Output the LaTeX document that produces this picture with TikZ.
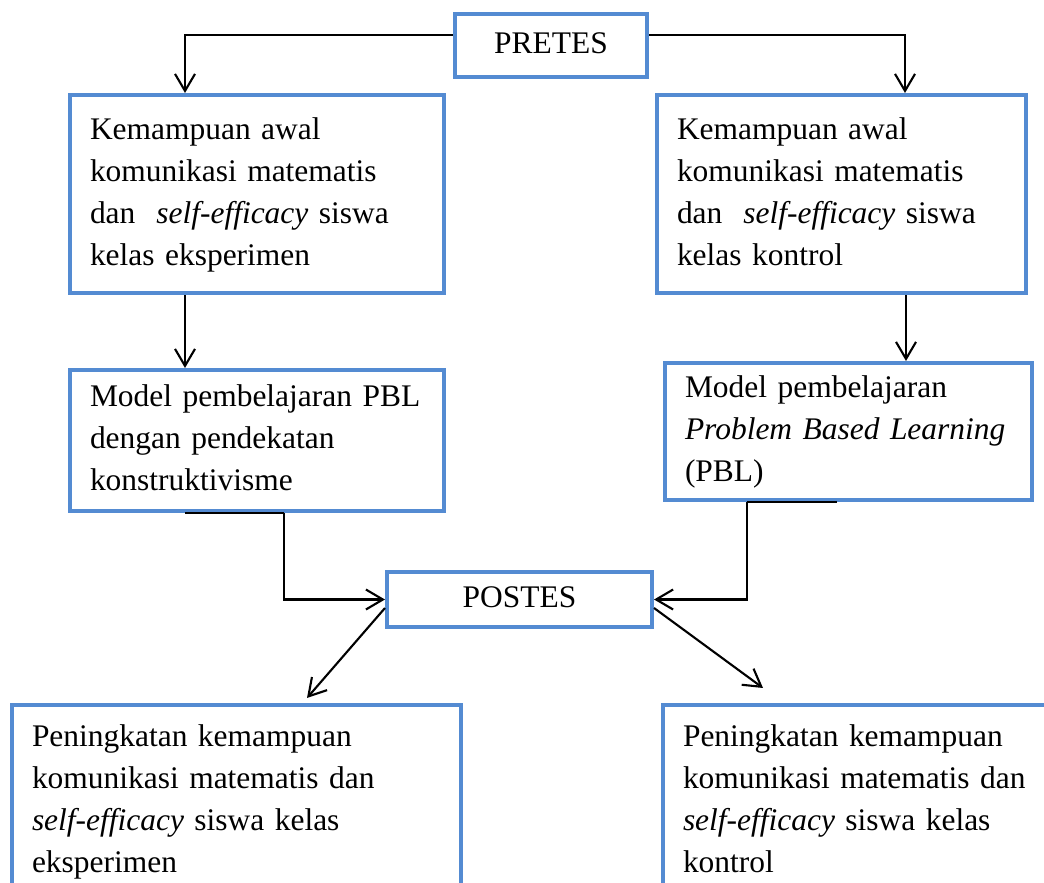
\documentclass[tikz,border=0pt]{standalone}
\usepackage{fontspec}
\setmainfont{Liberation Serif}
\usepackage{xcolor}
\usetikzlibrary{arrows.meta, positioning, calc}
\definecolor{boxblue}{RGB}{84, 139, 210}
\definecolor{dark}{RGB}{0, 0, 0}
\tikzset{
    box/.style={rectangle, draw=boxblue, line width=2.3pt, align=left, inner xsep=0.4cm, inner ysep=0pt,
        font=\fontsize{17.9pt}{23.9pt}\selectfont, execute at begin node=\strut, execute at end node=\strut},
    tagbox/.style={box, align=center},
    arr/.style={-{Straight Barb[length=3.4mm, width=4mm]}, line width=1.2pt, dark},
    link/.style={line width=1.2pt, dark}
}
\begin{document}
\begin{tikzpicture}
    \useasboundingbox (0,0) rectangle (20.88,-17.64);
    \node[tagbox, minimum width=3.84cm, minimum height=1.26cm] (pretes) at (11.02,-0.91) {PRETES};
    \node[box, text width=6.68cm, minimum height=3.96cm] (awalE) at (5.14,-3.88) {Kemampuan awal\\komunikasi matematis\\dan~ \textit{self-efficacy} siswa\\kelas eksperimen};
    \node[box, text width=6.58cm, minimum height=3.96cm] (awalK) at (16.83,-3.88) {Kemampuan awal\\komunikasi matematis\\dan~ \textit{self-efficacy} siswa\\kelas kontrol};
    \node[box, text width=6.68cm, minimum height=2.82cm] (modelE) at (5.14,-8.81) {Model pembelajaran PBL\\dengan pendekatan\\konstruktivisme};
    \node[box, text width=6.54cm, minimum height=2.74cm] (modelK) at (16.97,-8.63) {Model pembelajaran\\\textit{Problem Based Learning}\\(PBL)};
    \node[tagbox, minimum width=5.30cm, minimum height=1.10cm] (postes) at (10.39,-11.99) {POSTES};
    \node[box, text width=8.18cm, minimum height=3.86cm] (hasilE) at (4.73,-16.03) {Peningkatan kemampuan\\komunikasi matematis dan\\\textit{self-efficacy} siswa kelas\\eksperimen};
    \node[box, text width=7.14cm, minimum height=3.86cm] (hasilK) at (17.23,-16.03) {Peningkatan kemampuan\\komunikasi matematis dan\\\textit{self-efficacy} siswa kelas\\kontrol};

    \draw[arr] ([yshift=0.21cm]pretes.west) -| ([xshift=-1.44cm]awalE.north);
    \draw[arr] ([yshift=0.21cm]pretes.east) -| ([xshift=1.27cm]awalK.north);
    \draw[arr] ([xshift=-1.44cm]awalE.south) -- ([xshift=-1.44cm]modelE.north);
    \draw[arr] ([xshift=1.29cm]awalK.south) -- ([xshift=1.29cm]awalK.south |- modelK.north);
    \draw[link] ([xshift=-1.44cm]modelE.south) -- ([xshift=0.54cm]modelE.south);
    \draw[arr] ([xshift=0.54cm]modelE.south) |- (postes.west);
    \draw[link] ([xshift=-0.23cm]modelK.south) -- ([xshift=-2.03cm]modelK.south);
    \draw[arr] ([xshift=-2.03cm]modelK.south) |- (postes.east);
    \draw[arr] ([yshift=-0.17cm]postes.west) -- ([xshift=1.41cm, yshift=0.1cm]hasilE.north);
    \draw[arr] ([yshift=-0.17cm]postes.east) -- ([xshift=-1.97cm, yshift=0.3cm]hasilK.north);
\end{tikzpicture}
\end{document}
